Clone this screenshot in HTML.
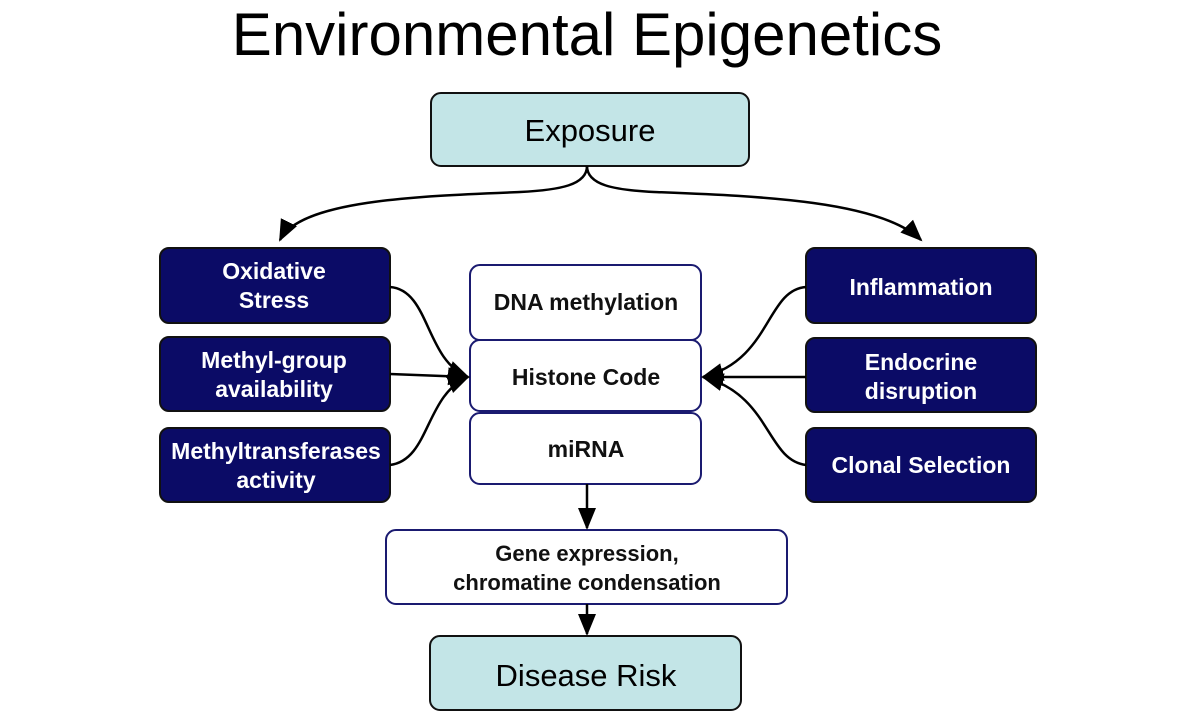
<!DOCTYPE html>
<html><head><style>
body{margin:0;background:#fff;}
svg{display:block;}
text{font-family:"Liberation Sans",sans-serif;}
.b{font-weight:bold;font-size:23px;}
</style></head><body>
<svg width="1200" height="720" viewBox="0 0 1200 720">
<defs>
<marker id="s" markerWidth="22" markerHeight="22" refX="20" refY="11" orient="auto" markerUnits="userSpaceOnUse" viewBox="0 0 22 22"><path d="M0,2 L22,11 L0,20z" fill="#000"/></marker></defs>
<text x="587" y="55" font-size="60" text-anchor="middle">Environmental Epigenetics</text>
<rect x="431" y="93" width="318" height="73" rx="10" fill="#c3e5e7" stroke="#111" stroke-width="2"/>
<text x="590" y="141" font-size="31" text-anchor="middle">Exposure</text>
<g fill="#0b0b66" stroke="#111" stroke-width="2">
<rect x="160" y="248" width="230" height="75" rx="9"/><rect x="160" y="337" width="230" height="74" rx="9"/><rect x="160" y="428" width="230" height="74" rx="9"/>
<rect x="806" y="248" width="230" height="75" rx="9"/><rect x="806" y="338" width="230" height="74" rx="9"/><rect x="806" y="428" width="230" height="74" rx="9"/>
</g>
<g fill="#fff" class="b" text-anchor="middle">
<text x="274" y="279">Oxidative</text><text x="274" y="308">Stress</text>
<text x="274" y="368">Methyl-group</text><text x="274" y="397">availability</text>
<text x="276" y="459">Methyltransferases</text><text x="276" y="488">activity</text>
<text x="921" y="295">Inflammation</text>
<text x="921" y="370">Endocrine</text><text x="921" y="399">disruption</text>
<text x="921" y="473">Clonal Selection</text>
</g>
<g fill="#fff" stroke="#1a1a70" stroke-width="2">
<rect x="470" y="265" width="231" height="75" rx="10"/><rect x="470" y="340" width="231" height="71" rx="10"/><rect x="470" y="413" width="231" height="71" rx="10"/>
<rect x="386" y="530" width="401" height="74" rx="10"/>
</g>
<g class="b" text-anchor="middle" fill="#111">
<text x="586" y="310">DNA methylation</text><text x="586" y="385">Histone Code</text><text x="586" y="457">miRNA</text>
<text x="587" y="561" font-size="22">Gene expression,</text><text x="587" y="590" font-size="22">chromatine condensation</text>
</g>
<rect x="430" y="636" width="311" height="74" rx="10" fill="#c3e5e7" stroke="#111" stroke-width="2"/>
<text x="586" y="686" font-size="31" text-anchor="middle">Disease Risk</text>
<g fill="none" stroke="#000" stroke-width="2.5">
<path d="M587,166 C587,185 560,190 520,192 C420,196 300,200 280,240" marker-end="url(#s)"/>
<path d="M587,166 C587,185 614,190 654,192 C754,196 880,200 921,240" marker-end="url(#s)"/>
<path d="M390,287 C430,290 425,360 468,377" marker-end="url(#s)"/>
<path d="M390,374 L468,377" marker-end="url(#s)"/>
<path d="M390,465 C430,460 425,395 468,377" marker-end="url(#s)"/>
<path d="M806,287 C766,290 771,360 703,377" marker-end="url(#s)"/>
<path d="M806,377 L703,377" marker-end="url(#s)"/>
<path d="M806,465 C766,460 771,395 703,377" marker-end="url(#s)"/>
<path d="M587,484 L587,528" marker-end="url(#s)"/>
<path d="M587,604 L587,634" marker-end="url(#s)"/>
</g>
</svg>
</body></html>
